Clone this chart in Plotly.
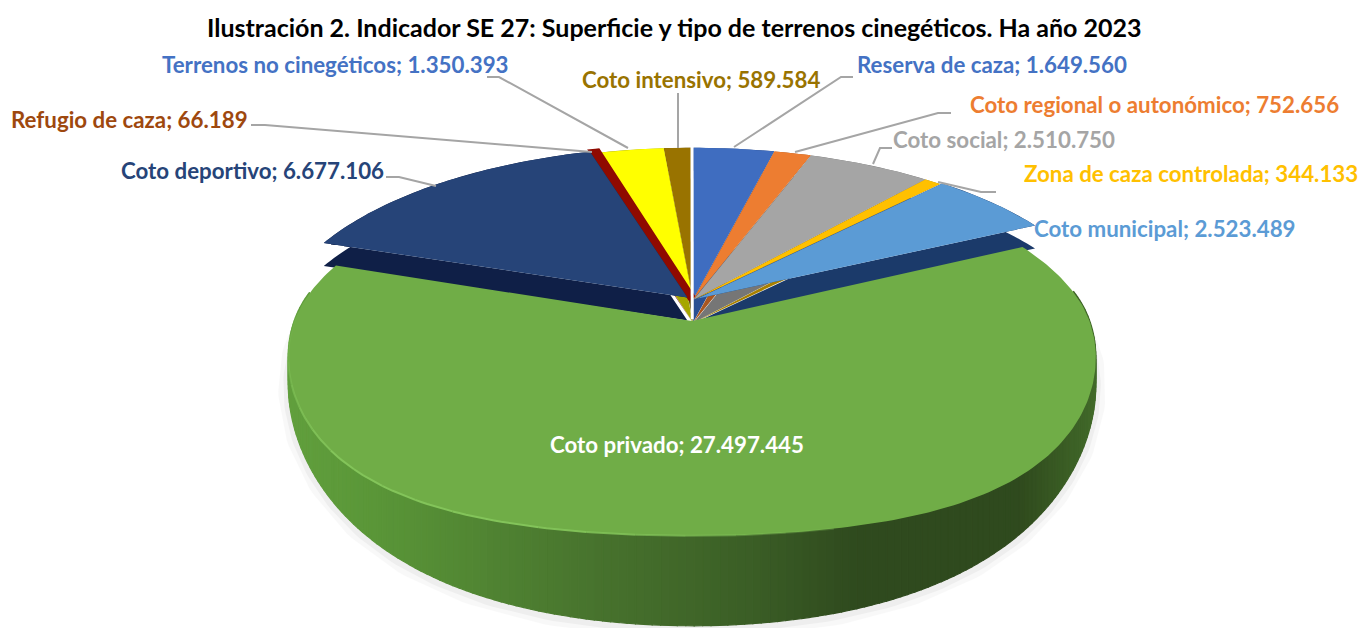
import math
import plotly.graph_objects as go

# ---------- data ----------
categories = ["Reserva de caza", "Coto regional o autonómico", "Coto social",
              "Zona de caza controlada", "Coto municipal", "Coto privado",
              "Coto deportivo", "Refugio de caza", "Terrenos no cinegéticos",
              "Coto intensivo"]
values = [1649560, 752656, 2510750, 344133, 2523489, 27497445,
          6677106, 66189, 1350393, 589584]
value_labels = ["1.649.560", "752.656", "2.510.750", "344.133", "2.523.489",
                "27.497.445", "6.677.106", "66.189", "1.350.393", "589.584"]

# ---------- style ----------
top_colors = ["#3F6DC0", "#ED7D31", "#A5A5A5", "#FFC000", "#5B9BD5", "#70AD47",
              "#264478", "#8F0A00", "#FFFF00", "#997300"]
wall_colors = ["#2A4F92", "#A9561F", "#767676", "#A88000", "#1B3A6A", "#5b9539",
               "#0F1F47", "#6E0A00", "#A6A600", "#5C4500"]
label_colors = ["#4472C4", "#ED7D31", "#A5A5A5", "#FFC000", "#5B9BD5", "#FFFFFF",
                "#264478", "#9E480E", "#4472C4", "#997300"]
explode = [0.004, 0.004, 0.004, 0.004, 0.012, 0.11, 0.02, 0.006, 0.004, 0.004]
radius = [1, 1, 1, 1, 1, 0.955, 1, 1, 1, 1]
outline = [0, 0, 0, 0, 0, 0, 0, 8, 0, 0]
label_xy = [(992, 64), (1154, 104), (1004, 139), (1191, 173), (1165, 228),
            (677, 444), (252, 170), (129, 119), (335, 64), (701, 79)]
leaders = [
    [(853, 77), (841, 77), (734, 147)],
    [(951, 113), (938, 113), (795, 152)],
    [(892, 148), (880, 148), (873, 164)],
    [(996, 192), (981, 192), (938, 182)],
    [(386, 177), (399, 177), (436, 186)],
    [(251, 125), (265, 125), (592, 152)],
    [(487, 77), (499, 77), (628, 148)],
    [(678, 93), (678, 148)],
]
FONT = "Lato"
CX, CY, A, B, K = 693, 300, 408, 179, 0.18
FRONT = 1.065       # furthest reach of the big slice toward the viewer
BULGE = 0.13        # fullness of the front rim
GREEN_SHIFT = -4
green_wall_stops = [(285, (98, 160, 62)), (377, (90, 150, 56)), (591, (72, 116, 46)),
                    (752, (59, 94, 38)), (859, (47, 74, 30)), (1020, (48, 75, 30)),
                    (1095, (66, 106, 42))]


def project(x, y):
    w = 1 + K * y
    return CX + A * x / w, CY - B * y / w


def project_rim(x, y):
    """Projection of the big slice's rim, fuller toward the viewer as in the source."""
    sx, _ = project(x, y)
    u = min(1.0, max(0.0, -y) / FRONT)
    yy = y * (1 + BULGE * 4 * u * (1 - u))
    w = 1 + K * y
    return sx + GREEN_SHIFT, CY - B * yy / w


def thick(y):
    return 23 + 67 * (max(0.0, -y) / FRONT) ** 2


def wall_color(sx):
    for (x0, c0), (x1, c1) in zip(green_wall_stops, green_wall_stops[1:]):
        if sx <= x1:
            t = max(0.0, (sx - x0) / (x1 - x0))
            return "rgb(%d,%d,%d)" % tuple(c0[i] + (c1[i] - c0[i]) * t for i in range(3))
    return "rgb(%d,%d,%d)" % green_wall_stops[-1][1]


total = sum(values)
slices = []
acc = 0
for i, v in enumerate(values):
    a0, a1 = acc / total * 2 * math.pi, (acc + v) / total * 2 * math.pi
    acc += v
    b = (a0 + a1) / 2
    ox, oy = explode[i] * math.sin(b), explode[i] * math.cos(b)
    n = max(2, int((a1 - a0) / math.radians(1.0)))
    arc = [(ox + radius[i] * math.sin(a0 + (a1 - a0) * j / n),
            oy + radius[i] * math.cos(a0 + (a1 - a0) * j / n)) for j in range(n + 1)]
    slices.append(dict(i=i, apex=(ox, oy), arc=arc, mid=b))

fig = go.Figure()


def poly(xs, ys, color, lw=0, lc=None, op=1):
    fig.add_trace(go.Scatter(x=xs, y=ys, mode="lines", fill="toself", fillcolor=color,
                             line=dict(color=lc or color, width=lw), opacity=op,
                             hoverinfo="skip", showlegend=False))


green = slices[5]

# soft shadow under the large slice
front = [p for p in green["arc"] if p[1] < -0.03]
for width, op in [(20, 0.03), (10, 0.05)]:
    xs, ys = [], []
    for x, y in front:
        sx, sy = project_rim(x, y)
        xs.append(sx)
        ys.append(sy + thick(y) + 2)
    fig.add_trace(go.Scatter(x=xs, y=ys, mode="lines", opacity=op,
                             line=dict(color="#444444", width=width),
                             hoverinfo="skip", showlegend=False))

# the smaller slices, back to front
others = sorted((s for s in slices if s["i"] != 5),
                key=lambda s: -(s["apex"][1] + math.cos(s["mid"])))
for s in others:
    i = s["i"]
    ring = [s["apex"]] + s["arc"]
    wx, wy = [], []
    for p, q in zip(ring, ring[1:] + ring[:1]):
        px, py = project(*p)
        qx, qy = project(*q)
        wx += [px, qx, qx, px, px, None]
        wy += [py, qy, qy + thick(q[1]), py + thick(p[1]), py, None]
    poly(wx, wy, wall_colors[i])
    tops = [project(*p) for p in ring]
    poly([p[0] for p in tops] + [tops[0][0]], [p[1] for p in tops] + [tops[0][1]],
         top_colors[i], lw=outline[i])

# seam at the start of the first slice
s0 = project(*slices[0]["apex"])
s1 = project(0, 1.01)
fig.add_trace(go.Scatter(x=[s0[0] - 1, s1[0] - 1], y=[s0[1] + 20, s1[1]], mode="lines",
                         line=dict(color="#FFFFFF", width=3), hoverinfo="skip",
                         showlegend=False))

# big slice: wall as shaded strips, then top face and highlight
arc = green["arc"]
for p, q in zip(arc, arc[1:]):
    if min(p[1], q[1]) > 0.03:
        continue
    px, py = project_rim(*p)
    qx, qy = project_rim(*q)
    col = wall_color((px + qx) / 2)
    poly([px, qx, qx, px, px],
         [py - 1, qy - 1, qy + thick(q[1]), py + thick(p[1]), py - 1],
         col, lw=1.2)
ring = [green["apex"]] + arc
tops = [project_rim(*p) for p in ring]
poly([p[0] for p in tops] + [tops[0][0]], [p[1] for p in tops] + [tops[0][1]], top_colors[5])

# highlight along the front rim, fading toward the right
hl = [project_rim(*p) for p in arc if p[1] < -0.05 and p[0] < 0.3]
step = 6
for j in range(0, len(hl) - 1, step):
    seg = hl[j:j + step + 1]
    frac = 1 - abs(j / max(1, len(hl) - 1) - 0.45) / 0.55
    fig.add_trace(go.Scatter(x=[p[0] for p in seg], y=[p[1] for p in seg], mode="lines",
                             opacity=max(0.1, min(1.0, frac * 1.4)),
                             line=dict(color="#83C45A", width=2), hoverinfo="skip",
                             showlegend=False))

# leader lines
for pts in leaders:
    fig.add_trace(go.Scatter(x=[p[0] for p in pts], y=[p[1] for p in pts], mode="lines",
                             line=dict(color="#A5A5A5", width=2), hoverinfo="skip",
                             showlegend=False))

annotations = [dict(x=x, y=y, xref="x", yref="y", showarrow=False,
                    text="<b>%s; %s</b>" % (c, v),
                    font=dict(family=FONT, size=22.3, color=col))
               for c, v, col, (x, y) in zip(categories, value_labels, label_colors, label_xy)]
annotations.append(dict(x=674, y=27, xref="x", yref="y", showarrow=False,
                        text="<b>Ilustración 2. Indicador SE 27: Superficie y tipo de terrenos cinegéticos. Ha año 2023</b>",
                        font=dict(family=FONT, size=25, color="#000000")))

fig.update_layout(width=1360, height=628, margin=dict(l=0, r=0, t=0, b=0),
                  paper_bgcolor="#FFFFFF", plot_bgcolor="#FFFFFF", showlegend=False,
                  xaxis=dict(range=[0, 1360], visible=False, fixedrange=True),
                  yaxis=dict(range=[628, 0], visible=False, fixedrange=True),
                  annotations=annotations)
fig.write_html("out.html", config={"displayModeBar": False},
               post_script="document.body.style.margin='0';document.documentElement.style.overflow='hidden';")
